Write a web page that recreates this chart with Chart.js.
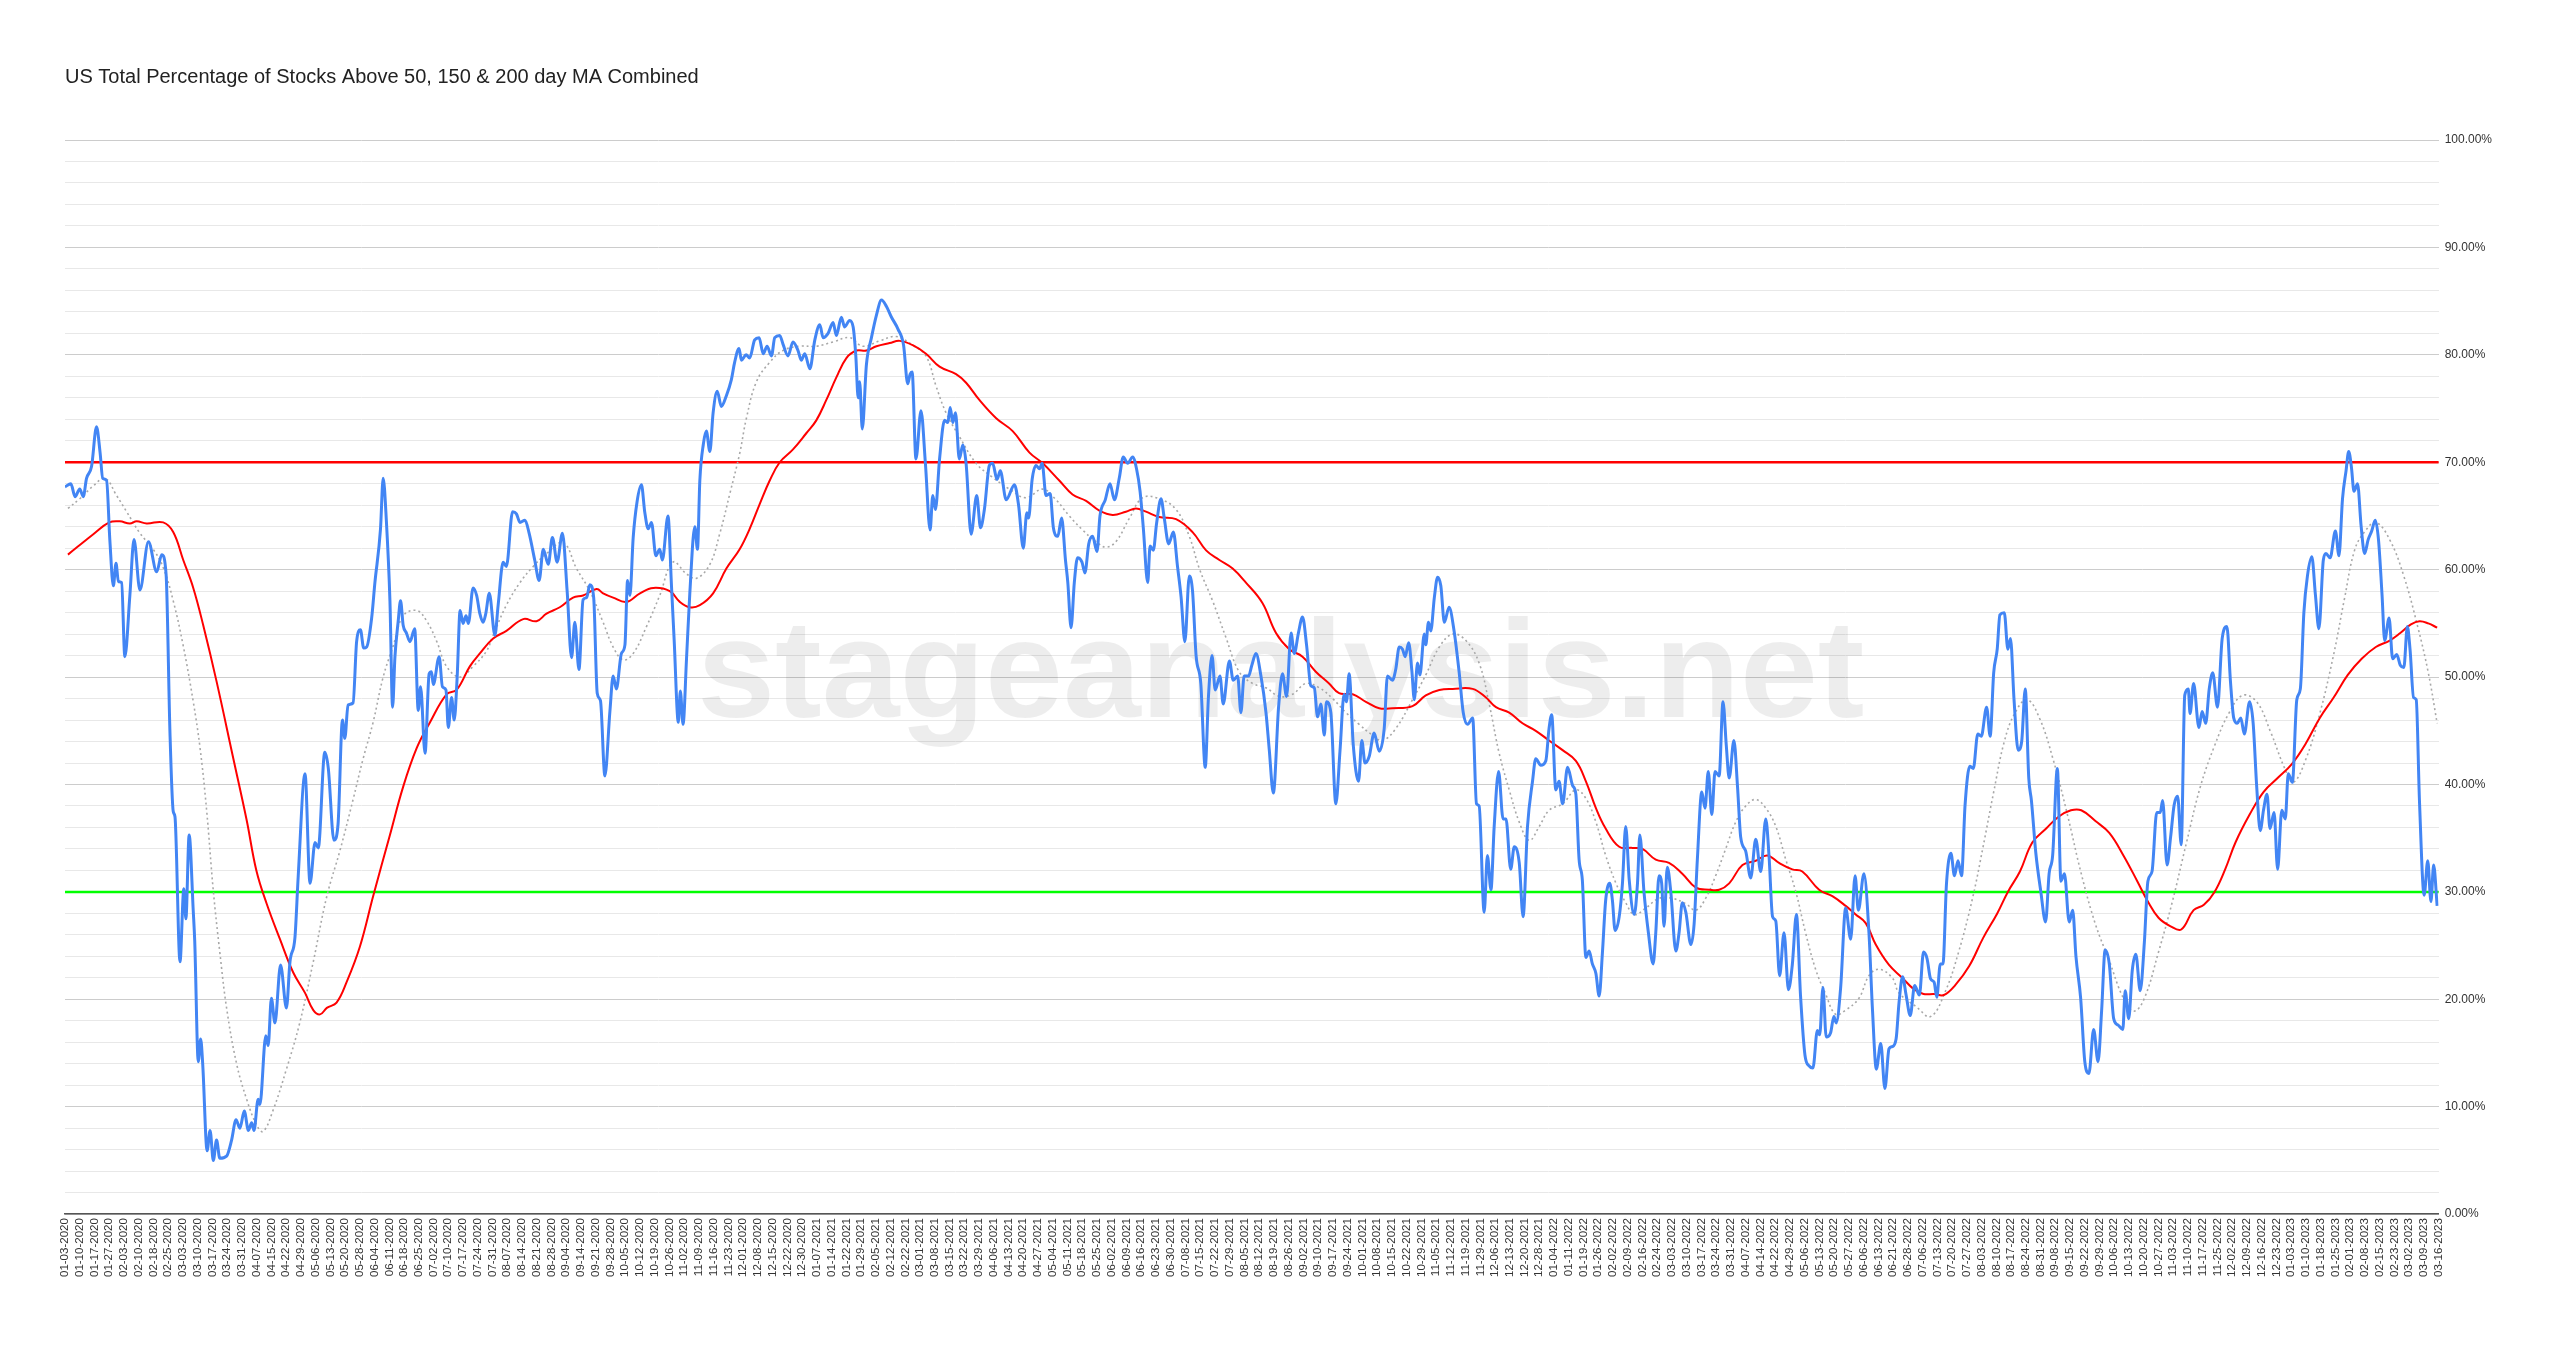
<!DOCTYPE html>
<html>
<head>
<meta charset="utf-8">
<title>US Total Percentage of Stocks Above 50, 150 & 200 day MA Combined</title>
<script src="https://cdn.jsdelivr.net/npm/chart.js@4.4.1/dist/chart.umd.min.js"></script>
<style>
    html, body { margin: 0; padding: 0; background: #fff; }
    #wrap { width: 2560px; height: 1350px; }
</style>
</head>
<body>
<div id="wrap"><canvas id="maChart" width="2560" height="1350"></canvas></div>
<script>
// weekly axis labels, one every 5 trading days
const dates = [
    '01-03-2020','01-10-2020','01-17-2020','01-27-2020','02-03-2020','02-10-2020','02-18-2020','02-25-2020',
    '03-03-2020','03-10-2020','03-17-2020','03-24-2020','03-31-2020','04-07-2020','04-15-2020','04-22-2020',
    '04-29-2020','05-06-2020','05-13-2020','05-20-2020','05-28-2020','06-04-2020','06-11-2020','06-18-2020',
    '06-25-2020','07-02-2020','07-10-2020','07-17-2020','07-24-2020','07-31-2020','08-07-2020','08-14-2020',
    '08-21-2020','08-28-2020','09-04-2020','09-14-2020','09-21-2020','09-28-2020','10-05-2020','10-12-2020',
    '10-19-2020','10-26-2020','11-02-2020','11-09-2020','11-16-2020','11-23-2020','12-01-2020','12-08-2020',
    '12-15-2020','12-22-2020','12-30-2020','01-07-2021','01-14-2021','01-22-2021','01-29-2021','02-05-2021',
    '02-12-2021','02-22-2021','03-01-2021','03-08-2021','03-15-2021','03-22-2021','03-29-2021','04-06-2021',
    '04-13-2021','04-20-2021','04-27-2021','05-04-2021','05-11-2021','05-18-2021','05-25-2021','06-02-2021',
    '06-09-2021','06-16-2021','06-23-2021','06-30-2021','07-08-2021','07-15-2021','07-22-2021','07-29-2021',
    '08-05-2021','08-12-2021','08-19-2021','08-26-2021','09-02-2021','09-10-2021','09-17-2021','09-24-2021',
    '10-01-2021','10-08-2021','10-15-2021','10-22-2021','10-29-2021','11-05-2021','11-12-2021','11-19-2021',
    '11-29-2021','12-06-2021','12-13-2021','12-20-2021','12-28-2021','01-04-2022','01-11-2022','01-19-2022',
    '01-26-2022','02-02-2022','02-09-2022','02-16-2022','02-24-2022','03-03-2022','03-10-2022','03-17-2022',
    '03-24-2022','03-31-2022','04-07-2022','04-14-2022','04-22-2022','04-29-2022','05-06-2022','05-13-2022',
    '05-20-2022','05-27-2022','06-06-2022','06-13-2022','06-21-2022','06-28-2022','07-06-2022','07-13-2022',
    '07-20-2022','07-27-2022','08-03-2022','08-10-2022','08-17-2022','08-24-2022','08-31-2022','09-08-2022',
    '09-15-2022','09-22-2022','09-29-2022','10-06-2022','10-13-2022','10-20-2022','10-27-2022','11-03-2022',
    '11-10-2022','11-17-2022','11-25-2022','12-02-2022','12-09-2022','12-16-2022','12-23-2022','01-03-2023',
    '01-10-2023','01-18-2023','01-25-2023','02-01-2023','02-08-2023','02-15-2023','02-23-2023','03-02-2023',
    '03-09-2023','03-16-2023'
];
const daysPerLabel = 5;

// [trading day, % of stocks]
const combined = [
    [0,67.7],[2,68.0],[3.4,66.8],[5,67.5],[6.2,66.8],[7.3,68.5],[9,69.6],[10.7,73.3],[11.9,70.9],[12.8,68.5],
    [14.1,68.3],[15.2,62.8],[16.4,58.5],[17.3,60.6],[18.1,58.9],[19.2,58.8],[20.3,51.9],[22,57.6],[23.4,62.8],
    [25.4,58.1],[28.3,62.6],[31.1,59.8],[32.8,61.4],[34.3,59.5],[35.6,44.8],[36.7,37.5],[37.3,37.0],[39,23.5],
    [40.3,30.3],[41,27.5],[42.1,35.3],[43.5,28.2],[44,25.4],[45.2,14.2],[46,16.3],[46.7,14.0],[48.2,5.9],
    [49.2,7.8],[50.3,5.0],[51.4,6.9],[52.5,5.2],[54.8,5.4],[56.5,6.9],[58,8.8],[59.3,8.0],[60.8,9.6],[62.2,7.8],
    [63.3,8.5],[64.1,7.8],[65.5,10.7],[66.1,10.2],[68.1,16.6],[68.9,15.7],[70,20.1],[71.2,17.8],[73.1,23.2],
    [75.1,19.2],[76.3,23.5],[78,25.8],[79.1,31.5],[81.4,41.0],[83.1,30.8],[84.8,34.6],[85.9,34.1],[88.1,43.0],
    [89.3,41.5],[91.2,34.8],[92.6,36.3],[94.1,46.0],[94.9,44.3],[96,47.4],[97.7,47.6],[98.9,53.3],[100.2,54.4],
    [101.3,52.7],[102.3,52.8],[104,55.5],[105.1,58.8],[107,63.8],[107.9,68.5],[109,64.5],[110.2,57.1],[111.1,47.2],
    [111.9,51.9],[113,55.2],[113.8,57.1],[114.7,54.8],[115.8,54.1],[117,53.3],[118.6,54.5],[119.8,46.9],
    [120.6,49.1],[122.1,42.9],[123.5,50.3],[124.3,50.5],[124.9,49.3],[126.9,51.9],[128,49.1],[129.2,48.8],
    [130,45.3],[131.1,48.1],[132,46.0],[133,50.0],[134,56.2],[135,55.0],[136,55.7],[136.8,55.0],[138.4,58.3],
    [139.6,57.6],[140.7,55.9],[141.8,55.1],[142.7,55.9],[143.9,57.8],[145.8,53.9],[146.9,56.7],[148.6,60.7],
    [149.7,60.3],[151.8,65.4],[153.1,65.2],[154.3,64.4],[156,64.6],[157.4,63.4],[159.3,60.9],[160.8,59.0],
    [162.2,61.9],[163.9,60.5],[165.3,63.0],[166.9,60.7],[168.7,63.4],[170.3,58.0],[171.8,51.8],[172.9,55.1],
    [174.3,50.7],[175.7,57.2],[176.9,57.4],[178,58.6],[179.3,57.4],[180.5,48.5],[181.6,47.8],[183.1,40.8],
    [184.8,46.8],[185.9,50.1],[187,48.9],[188.7,52.2],[189.9,53.0],[190.8,59.0],[191.6,57.6],[192.7,63.0],
    [194,66.3],[195.5,67.9],[196.6,65.4],[197.8,63.8],[198.9,64.4],[200.4,61.3],[201.7,61.9],[202.6,60.9],
    [204.5,65.0],[205.7,58.4],[206.6,53.4],[208,45.8],[208.7,48.7],[209.6,45.6],[210.8,51.8],[211.9,57.8],
    [213.6,64.0],[214.5,61.9],[215.3,68.3],[216.5,71.7],[217.5,72.9],[218.7,71.0],[219.8,74.6],[221.2,76.6],
    [222.6,75.2],[224.3,76.2],[226,77.7],[227.1,79.3],[228.6,80.6],[229.4,79.5],[231,80.0],[232.2,79.7],
    [233.9,81.4],[235.4,81.6],[236.8,80.1],[238.1,80.8],[239.6,79.9],[240.7,81.6],[242.4,81.8],[243.5,81.0],
    [245.2,79.9],[246.9,81.2],[248.6,80.4],[249.7,79.5],[250.9,80.1],[252.6,78.7],[254.3,81.4],[256,82.8],
    [257.1,81.6],[258.8,82.0],[260.5,83.0],[261.6,81.8],[263.3,83.5],[264.4,82.6],[266.1,83.2],[267.3,82.6],
    [268.2,79.9],[269,76.0],[269.5,77.5],[270.4,73.1],[271.8,79.1],[273.5,81.6],[275.2,83.7],[276.9,85.1],
    [278.6,84.5],[280.3,83.5],[282.5,82.4],[284.4,80.9],[285.8,77.3],[286.6,78.2],[287.3,78.4],[288.6,70.3],
    [290.3,74.8],[291.8,69.9],[293.4,63.7],[294.3,66.9],[295.2,65.6],[296.6,70.3],[298.3,73.9],[299.4,73.7],
    [300.2,75.1],[301.1,73.7],[302,74.6],[303.3,70.3],[304.5,71.6],[305.6,69.9],[307.3,63.3],[309.2,66.9],
    [310.5,63.9],[311.8,65.6],[313.5,69.7],[314.6,69.9],[316.1,68.4],[317.2,69.2],[319.2,66.5],[322,67.9],
    [323.4,66.0],[325,62.0],[326.2,65.3],[326.8,64.8],[328,68.4],[329.3,69.7],[330.5,69.4],[331.4,69.9],
    [332.7,66.9],[334.1,67.1],[335.2,63.9],[336.7,63.1],[338,64.8],[339.3,60.9],[340.1,58.8],[341.2,54.6],
    [342.3,58.8],[343.4,61.1],[344.9,60.7],[345.9,59.7],[347.2,62.4],[348.5,63.1],[350,61.7],[351,65.0],
    [352.8,66.5],[354.4,68.0],[355.9,66.5],[357.6,68.6],[358.9,70.5],[360.4,69.9],[362.1,70.5],[363.4,69.4],
    [364.6,67.3],[365.7,63.9],[367.2,58.8],[368,62.2],[369.1,61.8],[370.2,64.3],[371.7,66.6],[372.8,64.8],
    [374.3,62.4],[375.9,63.5],[377.3,60.3],[378.5,57.5],[379.8,53.3],[381.3,59.4],[382.4,58.0],[383.6,52.0],
    [385.2,49.4],[386.7,41.6],[387.8,48.2],[389,52.0],[390.1,48.8],[391.7,50.1],[392.8,47.5],[394.9,51.5],
    [396.2,49.7],[397.7,50.1],[398.8,46.7],[399.9,50.1],[401.4,50.1],[402.5,51.1],[403.9,52.2],[405.6,50.1],
    [407.3,46.7],[408.4,43.3],[409.8,39.2],[411.6,47.3],[412.9,50.3],[414.3,48.2],[415.8,54.1],[416.9,52.2],
    [418.3,54.1],[419.7,55.6],[421.1,52.9],[422.5,49.2],[423.7,49.0],[424.8,46.3],[425.9,47.5],[427.1,44.6],
    [427.8,47.7],[429.3,46.7],[431,38.2],[432.4,43.1],[433.8,48.4],[434.6,47.7],[435.5,50.3],[436.9,43.7],
    [438.7,40.3],[439.8,44.1],[440.9,42.0],[442.3,42.6],[444,44.8],[445.7,43.1],[447.4,45.2],[448.5,50.1],
    [450.2,49.7],[451.3,50.7],[452.5,52.8],[453.6,52.6],[454.5,51.9],[455.7,53.2],[456.8,50.5],[457.6,47.9],
    [458.7,51.3],[459.5,50.2],[461,54.0],[461.5,53.0],[462.4,55.1],[463.2,54.3],[464.4,57.4],[465.5,59.3],
    [466.6,58.5],[467.8,55.1],[469.4,56.5],[471.1,54.3],[472.8,50.5],[474.2,46.7],[475.7,45.6],[477.4,46.2],
    [478.7,38.2],[479.6,38.0],[481.3,28.1],[482.4,33.4],[483.6,30.2],[484.7,36.1],[486.2,41.2],[487.7,36.8],
    [488.7,36.8],[490.3,32.1],[491.5,34.2],[493.2,32.7],[494.5,27.7],[496,36.1],[497.7,40.3],[498.8,42.4],
    [500.5,41.8],[502.2,42.2],[503.3,45.2],[504.2,46.5],[505.6,39.5],[506.7,40.3],[507.9,38.2],[509.6,41.6],
    [511.3,39.9],[512.4,39.1],[513.5,33.0],[514.6,31.1],[515.8,23.9],[516.9,24.5],[518,23.3],[519.2,22.4],
    [520.3,20.3],[521.4,24.3],[522.5,29.2],[523.9,30.8],[524.8,29.2],[525.7,26.4],[527.1,27.7],[528.2,30.8],
    [529.3,36.1],[530.5,31.1],[532.2,27.9],[533.3,30.8],[534.1,35.3],[535.5,30.0],[537,26.2],[538.6,23.3],
    [539.5,26.2],[540.6,31.5],[541.5,30.8],[542.3,26.8],[543.4,32.3],[544.6,30.0],[546.3,24.5],[547.4,26.2],
    [548.5,29.0],[549.7,28.1],[551.4,25.1],[552.5,27.0],[553.6,33.0],[555.1,39.3],[556.2,37.8],[557.3,41.2],
    [558.5,37.2],[559.6,41.2],[561,40.8],[562.3,47.7],[563.4,43.7],[564.4,40.6],[566,44.1],[567.2,39.9],
    [568.3,35.1],[570,33.8],[571.7,31.3],[573.4,34.9],[575.1,31.9],[576.8,36.8],[577.9,33.4],[579.1,27.7],
    [580.2,27.3],[581.5,22.2],[583,26.2],[584.5,20.9],[585.8,23.2],[587.2,27.9],[588.6,20.3],[590.1,14.8],
    [591.5,13.8],[592.8,13.6],[594.3,17.1],[595.1,16.7],[596.2,21.1],[597.3,16.5],[598.8,16.9],[599.9,18.4],
    [600.7,17.8],[602.2,21.1],[603.9,28.5],[605.6,25.6],[607.1,31.5],[608.2,28.3],[610.1,31.7],[611.8,26.2],
    [613,19.0],[614.3,13.5],[615.8,15.9],[617.2,11.7],[618.6,15.4],[619.7,15.6],[621,16.3],[622,19.7],
    [623.2,22.1],[624.4,20.4],[625.8,18.5],[627.3,21.3],[628.9,20.4],[630.3,24.4],[631.5,23.8],[632.7,21.9],
    [633.9,21.6],[634.8,20.2],[636,23.3],[636.9,23.3],[638.1,30.8],[639.6,33.6],[640.8,31.5],[642,32.9],
    [643.2,31.5],[644.4,38.1],[646,41.7],[647.2,41.5],[648.7,44.7],[649.9,44.5],[651.7,47.2],[652.9,44.5],
    [654.1,50.4],[655.3,52.6],[656.2,55.8],[657.7,56.0],[658.9,52.6],[659.8,53.6],[661,47.9],[662.4,43.2],
    [663.6,44.0],[664.8,48.9],[666,40.6],[666.9,38.5],[668.4,33.6],[670.1,30.0],[671.7,27.2],[672.9,31.7],
    [674.1,33.4],[675.7,41.5],[676.9,31.0],[678.1,31.7],[679.7,27.2],[680.9,28.3],[682,24.0],[683.6,20.1],
    [685,14.2],[686.4,13.1],[688,17.2],[689.5,14.2],[690.7,18.9],[691.9,24.6],[693.3,23.3],[694.8,18.2],
    [696.3,17.6],[697.9,17.2],[698.7,20.8],[699.9,18.2],[701.1,22.7],[702.3,24.2],[703.8,20.8],[705.2,25.3],
    [706.4,31.0],[707.8,31.9],[709.4,37.4],[710.6,37.4],[711.4,38.5],[712.9,32.5],[714.1,35.1],[715.3,38.1],
    [716.5,38.9],[717.7,34.4],[718.9,48.3],[720.1,48.9],[720.7,46.6],[721.9,49.4],[723.7,45.3],[724.8,46.8],
    [726,45.7],[727.2,48.9],[728.4,50.4],[730,47.2],[731.6,53.6],[733.2,54.7],[734.4,49.6],[735.5,46.2],
    [736.7,45.7],[737.9,46.2],[739.1,44.7],[740.9,47.7],[742.1,45.7],[743.3,39.8],[744.5,35.7],[745.6,37.6],
    [746.8,39.1],[747.8,35.9],[749.2,37.4],[750.4,32.1],[751.8,37.6],[753,36.8],[754,41.0],[755.4,40.2],
    [756.9,47.9],[758.1,48.9],[759.3,56.0],[760.5,59.4],[762,61.2],[763.2,57.7],[764.4,54.5],[765.9,60.9],
    [766.8,61.5],[768.2,61.1],[770,63.6],[771.2,61.3],[772.4,66.6],[773.6,69.2],[774.5,71.0],[775.4,69.6],
    [776.3,67.3],[777.5,68.0],[778.7,64.1],[779.9,61.5],[781.1,62.8],[782.3,63.6],[783.5,64.6],[784.6,62.8],
    [785.8,57.7],[786.7,53.4],[788.2,55.5],[789.4,51.7],[790.8,52.1],[792,51.1],[793.2,50.9],[794.4,54.7],
    [795.3,52.6],[796.5,48.1],[797.4,47.9],[798.5,38.5],[800.1,29.7],[801.3,32.9],[802.4,29.1],[803.3,32.5],
    [804.5,28.7]
];

// slow moving average (red)
const slowAvg = [
    [1,61.4],[9.6,63.3],[15,64.4],[18.6,64.5],[22,64.3],[24.3,64.5],[27.7,64.3],[33.3,64.4],[36.7,63.5],
    [40.1,60.9],[43.5,58.3],[46.9,54.8],[51.4,49.6],[57.1,42.4],[61.6,36.7],[64.9,32.0],[68.4,28.9],[72.9,25.6],
    [77.4,22.5],[81.4,20.6],[84.2,19.0],[86.5,18.6],[88.8,19.2],[92.1,19.7],[95.5,21.6],[100,24.9],[104.5,29.6],
    [110.2,35.3],[114.7,39.8],[119.3,43.4],[123.8,45.8],[129.4,48.4],[132.8,48.8],[137.3,51.0],[140.7,52.2],
    [145.2,53.6],[149.7,54.3],[155.4,55.4],[159.9,55.2],[163.3,55.9],[167.8,56.5],[172.3,57.4],[175.7,57.6],
    [180.3,58.2],[182.5,57.8],[185.9,57.4],[190.4,57.0],[195,57.8],[199.5,58.3],[205.1,58.0],[208.5,57.0],
    [211.9,56.5],[215.3,56.7],[219.8,57.8],[224.3,60.1],[228.8,61.9],[232.2,63.8],[235.6,66.1],[239,68.3],
    [242.4,70.0],[246.9,71.2],[251.4,72.7],[254.8,73.9],[258.2,75.8],[261.6,77.9],[265,79.7],[268.4,80.4],
    [271.8,80.4],[275.2,80.8],[279.7,81.1],[283.1,81.3],[287.5,80.9],[292,80.1],[296.6,78.9],[302.2,78.2],
    [305.6,77.4],[310.1,75.8],[315.8,74.1],[321.4,72.9],[327.1,70.9],[331.6,69.9],[337.2,68.3],[341.7,67.0],
    [346.3,66.4],[350.8,65.5],[355.3,65.1],[359.8,65.4],[363.2,65.7],[366.6,65.4],[371.1,64.9],[376.8,64.7],
    [382.4,63.5],[387,61.8],[391.5,60.9],[396,60.1],[400.5,58.8],[406.1,56.9],[410.7,54.1],[415.2,52.6],
    [419.7,51.9],[424.2,50.5],[428.7,49.4],[432.1,48.5],[436.7,48.4],[441.2,47.7],[445.7,47.1],[450.2,47.1],
    [457,47.3],[461.5,48.3],[466.1,48.8],[470.6,48.9],[477.4,48.9],[481.9,48.1],[485.3,47.2],[489.8,46.7],
    [494.3,45.7],[498.8,45.0],[503.3,44.1],[507.9,43.2],[512.4,42.2],[515.8,40.3],[519.2,37.8],[522.5,35.9],
    [527.1,34.2],[531.6,34.1],[535,34.0],[539.5,33.0],[544,32.7],[548.5,31.7],[553.1,30.4],[557.6,30.2],
    [561,30.2],[564.4,30.8],[568.9,32.5],[573.4,32.9],[577.3,33.4],[581.3,32.7],[585.8,32.1],[589.2,31.9],
    [594.9,30.2],[599.4,29.6],[603.9,28.7],[607.3,27.9],[610.7,27.1],[614.1,25.1],[618.6,23.2],[623.1,22.0],
    [626.8,21.0],[630.3,20.5],[633.9,20.5],[637.2,20.4],[641,21.3],[645.8,23.1],[650.5,25.7],[655.3,28.0],
    [658.9,30.0],[663,31.9],[667.2,34.6],[671.9,35.9],[676.1,37.0],[680.3,37.6],[683.8,37.6],[688.6,36.6],
    [693.3,35.5],[698.1,33.4],[702.8,31.0],[706.4,29.1],[710,27.6],[714.1,26.8],[717.7,26.5],[721.9,28.3],
    [725.4,28.8],[729,30.0],[732.6,32.1],[736.1,34.6],[740.9,37.2],[745.6,39.3],[750.4,40.6],[755.2,41.9],
    [759.9,43.8],[764.7,46.2],[769.4,48.1],[774.2,50.2],[778.9,51.7],[783.7,52.8],[788.4,53.4],[792,54.1],
    [795.6,54.9],[798.5,55.2],[801.5,55.0],[804.5,54.6]
];

// fast moving average (grey dotted)
const fastAvg = [
    [1,65.7],[5,66.6],[9.6,67.8],[13.6,68.5],[17.5,66.9],[20.9,65.4],[25.4,63.4],[29.9,61.9],[33.3,60.2],
    [36.7,57.1],[40.1,52.9],[43.5,47.7],[45.8,43.4],[48,37.7],[50.3,30.1],[52.5,24.4],[54.8,19.2],[58.2,14.0],
    [61.6,10.7],[65,8.3],[67.2,7.7],[70.6,9.7],[75.1,13.5],[79.6,17.8],[84.2,23.5],[88.8,29.6],[93.3,33.9],
    [97.7,38.6],[101.1,42.4],[104.5,45.8],[107.9,50.0],[111.3,52.9],[114.7,55.7],[119.3,56.2],[122.7,55.2],
    [126.1,53.3],[129.4,51.0],[134,50.0],[138.4,51.0],[142.9,52.4],[145.2,53.9],[149.7,56.7],[154.3,58.8],
    [158.8,60.3],[163.3,61.5],[169,62.5],[173.5,60.1],[178,58.0],[182.5,55.1],[185.9,52.8],[189.3,51.6],
    [192.7,52.2],[197.2,54.7],[201.7,57.6],[206.2,60.7],[210.8,59.6],[214.2,59.2],[218.7,60.5],[222.1,63.4],
    [225.5,67.1],[228.8,70.8],[231.1,74.1],[234.5,77.5],[239,79.3],[243.5,80.4],[249.2,80.8],[254.8,80.8],
    [260.5,81.2],[266.1,81.6],[270.6,80.8],[276.3,81.3],[281.9,81.7],[287.5,80.9],[292,79.9],[295.4,77.1],
    [298.8,74.6],[303.3,72.4],[309,69.9],[314.6,68.6],[320.3,67.5],[325.9,66.7],[331.6,67.5],[336.1,66.5],
    [340.6,65.0],[345.1,63.7],[349.7,62.6],[353,62.1],[356.4,62.6],[361,64.8],[365.5,66.7],[371.1,66.6],
    [376.8,65.6],[381.3,63.1],[384.7,60.1],[389.2,57.1],[393.7,53.7],[398.2,50.5],[402.8,49.4],[407.3,49.0],
    [411.8,48.2],[416.3,48.4],[420.8,49.4],[425.4,49.0],[429.9,48.0],[434.4,46.7],[438.9,45.6],[443.4,44.6],
    [446.8,44.1],[451.3,45.2],[457,47.9],[461.5,50.2],[466.1,52.8],[470.6,54.0],[475.1,53.4],[479.6,51.3],
    [483,47.5],[486.4,42.9],[489.8,39.5],[493.2,36.5],[496.6,34.8],[500,36.1],[503.3,37.6],[507.9,38.2],
    [512.4,39.5],[515.8,38.7],[519.2,36.5],[522.5,33.4],[526,30.8],[529.3,29.0],[532.2,27.9],[536.1,28.5],
    [540.6,29.4],[545.1,29.4],[549.7,28.9],[553.1,28.3],[556.4,29.4],[559.8,31.5],[563.2,34.0],[566.6,36.5],
    [570,38.0],[573.4,38.6],[576.8,37.8],[580.2,36.1],[583.6,33.0],[587,30.0],[590.3,26.2],[593.7,22.8],
    [597.1,20.5],[600.5,18.6],[603.9,19.0],[608.4,20.1],[611.8,22.2],[615.2,22.8],[619.7,22.0],[622,20.6],
    [627.9,19.3],[632.7,18.4],[637.5,20.6],[642.2,24.4],[647,29.5],[650.5,34.2],[654.1,39.3],[657.7,44.0],
    [661.2,46.6],[665.4,47.9],[669.6,46.2],[674.3,42.3],[679.1,37.2],[683.8,31.7],[688.6,27.0],[693.3,23.6],
    [698.1,20.1],[701.7,18.9],[705.2,20.1],[710,24.4],[714.7,29.1],[719.5,34.6],[724.2,39.8],[729,43.6],
    [733.8,46.6],[738.5,48.3],[743.3,47.7],[748,44.9],[752.8,41.5],[755.7,40.2],[759.9,42.3],[764.7,46.6],
    [769.4,52.1],[773,57.2],[776.6,61.9],[780.1,63.6],[783.7,64.4],[788.4,62.8],[793.2,59.4],[797.9,54.7],
    [801.5,50.4],[804.5,45.7]
];

// reference levels
const upperLevel = 70;
const lowerLevel = 30;

document.addEventListener('DOMContentLoaded', function() {
    const ctx = document.getElementById('maChart').getContext('2d');
    const font = "Arial, 'Liberation Sans', sans-serif";
    const lastDay = (dates.length - 1) * daysPerLabel;

    function toPoints(rows) {
        return rows.map(r => ({ x: r[0], y: r[1] }));
    }

    // watermark + 70 / 30 lines, drawn under the series
    const backdrop = {
        id: 'backdrop',
        beforeDatasetsDraw(chart) {
            const { ctx, chartArea, scales } = chart;
            ctx.save();
            ctx.font = "bold 140px 'Liberation Sans', Arial, sans-serif";
            ctx.fillStyle = 'rgba(0, 0, 0, 0.07)';
            ctx.textAlign = 'center';
            ctx.textBaseline = 'alphabetic';
            ctx.fillText('stageanalysis.net', (chartArea.left + chartArea.right) / 2 + 29, scales.y.getPixelForValue(46.3));

            ctx.lineWidth = 2.5;
            const levels = [[upperLevel, '#ff0000'], [lowerLevel, '#00ff00']];
            levels.forEach(([v, color]) => {
                const y = scales.y.getPixelForValue(v);
                ctx.strokeStyle = color;
                ctx.beginPath();
                ctx.moveTo(chartArea.left, y);
                ctx.lineTo(chartArea.right, y);
                ctx.stroke();
            });
            ctx.restore();
        }
    };

    new Chart(ctx, {
        type: 'line',
        data: {
            datasets: [
                {
                    label: 'Combined',
                    data: toPoints(combined),
                    borderColor: '#4285f4',
                    borderWidth: 3,
                    pointRadius: 0,
                    cubicInterpolationMode: 'monotone',
                    order: 1
                },
                {
                    label: 'Slow MA',
                    data: toPoints(slowAvg),
                    borderColor: '#ff0000',
                    borderWidth: 2,
                    pointRadius: 0,
                    tension: 0.4,
                    order: 2
                },
                {
                    label: 'Fast MA',
                    data: toPoints(fastAvg),
                    borderColor: '#a8a8a8',
                    borderWidth: 1.6,
                    borderDash: [2, 3],
                    pointRadius: 0,
                    tension: 0.4,
                    order: 3
                }
            ]
        },
        options: {
            responsive: false,
            animation: false,
            events: [],
            layout: { padding: { left: 65, right: 62, top: 0, bottom: 69 } },
            plugins: {
                legend: { display: false },
                tooltip: { enabled: false },
                title: {
                    display: true,
                    text: 'US Total Percentage of Stocks Above 50, 150 & 200 day MA Combined',
                    align: 'start',
                    color: '#222',
                    font: { family: font, size: 20, weight: 'normal' },
                    padding: { top: 65, bottom: 51 }
                }
            },
            scales: {
                x: {
                    type: 'linear',
                    min: 0,
                    max: lastDay,
                    grid: { display: false, drawTicks: false },
                    border: { display: true, color: '#555', width: 1.5 },
                    ticks: {
                        stepSize: daysPerLabel,
                        autoSkip: false,
                        minRotation: 90,
                        maxRotation: 90,
                        padding: 4,
                        color: '#333',
                        font: { family: font, size: 11.5 },
                        callback: v => dates[Math.round(v / daysPerLabel)] || ''
                    }
                },
                y: {
                    position: 'right',
                    min: 0,
                    max: 100,
                    border: { display: false },
                    grid: {
                        drawTicks: false,
                        color: c => (c.tick && c.tick.value % 10 === 0) ? '#cccccc' : '#e8e8e8'
                    },
                    ticks: {
                        stepSize: 2,
                        autoSkip: false,
                        padding: 6,
                        color: '#333',
                        font: { family: font, size: 12 },
                        callback: v => v % 10 === 0 ? v.toFixed(2) + '%' : ''
                    }
                }
            }
        },
        plugins: [backdrop]
    });
});
</script>
</body>
</html>
